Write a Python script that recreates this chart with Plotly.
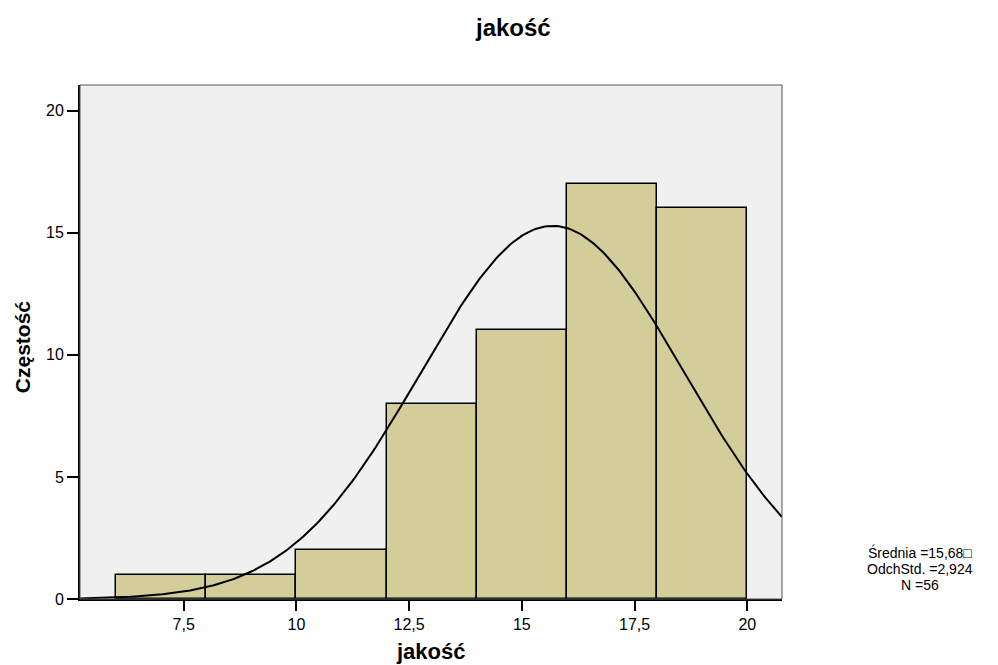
import numpy as np
import plotly.graph_objects as go

# Data
bin_left = [6, 8, 10, 12, 14, 16, 18]
bin_width = 2
counts = [1, 1, 2, 8, 11, 17, 16]
mean_val = 15.68
sd_val = 2.924
n_val = 56
x_tickvals = [7.5, 10, 12.5, 15, 17.5, 20]
x_ticktext = ["7,5", "10", "12,5", "15", "17,5", "20"]
y_tickvals = [0, 5, 10, 15, 20]
x_range = [5.2, 20.77]
y_range = [0, 21.05]
stats_lines = ["Średnia =15,68□", "OdchStd. =2,924", "N =56"]

FONT = "Liberation Sans, Arial, sans-serif"

centers = [b + bin_width / 2 for b in bin_left]

fig = go.Figure()
fig.add_trace(go.Bar(
    x=centers, y=counts, width=[bin_width] * len(counts),
    marker=dict(color="#D3CE99", line=dict(color="black", width=1.5)),
    hoverinfo="x+y", showlegend=False,
))

xs = np.linspace(x_range[0], x_range[1], 300)
ys = n_val * bin_width / (sd_val * np.sqrt(2 * np.pi)) * np.exp(-0.5 * ((xs - mean_val) / sd_val) ** 2)
fig.add_trace(go.Scatter(x=xs, y=ys, mode="lines", line=dict(color="black", width=2),
                         showlegend=False, hoverinfo="skip"))

# page body has an 8px margin, so the figure is 990x657 to fit the 998x665 window
fig.update_layout(
    width=990, height=657,
    margin=dict(l=72, r=216, t=77, b=66),
    paper_bgcolor="white", plot_bgcolor="#F0F0F0",
    font=dict(family=FONT, color="black", size=16),
    bargap=0,
)
fig.update_xaxes(
    range=x_range, tickvals=x_tickvals, ticktext=x_ticktext,
    ticks="outside", ticklen=10, tickwidth=2, tickcolor="black",
    showline=True, linecolor="black", linewidth=2, showgrid=False, zeroline=False,
    tickfont=dict(size=16),
)
fig.update_yaxes(
    range=y_range, tickvals=y_tickvals,
    ticks="outside", ticklen=11, tickwidth=2, tickcolor="black",
    showline=True, linecolor="black", linewidth=2, showgrid=False, zeroline=False,
    tickfont=dict(size=16),
)
# top/right thin border
fig.add_shape(type="rect", xref="paper", yref="paper", x0=0, y0=0, x1=1, y1=1,
              line=dict(color="#555555", width=1), layer="above")

# titles
fig.add_annotation(xref="paper", yref="paper", x=0.617, y=1.1128, xanchor="center", yanchor="middle",
                   text="<b>jakość</b>", showarrow=False, font=dict(size=24, family=FONT))
fig.add_annotation(xref="paper", yref="paper", x=0.5, y=-0.103, xanchor="center", yanchor="middle",
                   text="<b>jakość</b>", showarrow=False, font=dict(size=22, family=FONT))
fig.add_annotation(xref="paper", yref="paper", x=-0.0826, y=0.49, xanchor="center", yanchor="middle",
                   text="<b>Częstość</b>", textangle=-90, showarrow=False, font=dict(size=21, family=FONT))

stat_y = [0.0895, 0.0584, 0.0273]
for txt, yy in zip(stats_lines, stat_y):
    fig.add_annotation(xref="paper", yref="paper", x=1.1966, y=yy, xanchor="center", yanchor="middle",
                       text=txt, showarrow=False, font=dict(size=14, family=FONT),
                       borderpad=0)

fig.write_html("out.html")
